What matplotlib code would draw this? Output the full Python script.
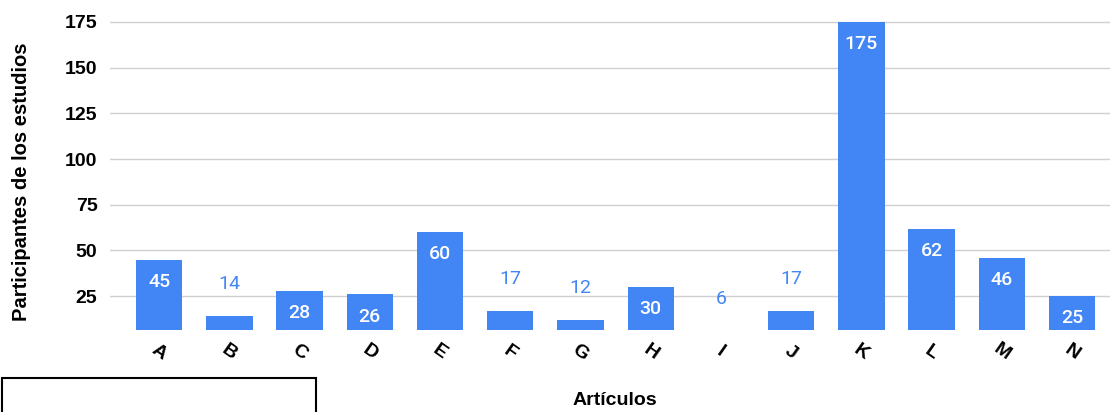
import matplotlib.pyplot as plt
from matplotlib.patches import Rectangle

articulos = ["A", "B", "C", "D", "E", "F", "G", "H", "I", "J", "K", "L", "M", "N"]
participantes = [45, 14, 28, 26, 60, 17, 12, 30, 6, 17, 175, 62, 46, 25]
y_ticks = [25, 50, 75, 100, 125, 150, 175]

blue = "#4285F4"

fig = plt.figure(figsize=(11.16, 4.12), dpi=100)
ax = fig.add_axes([110 / 1116, 82 / 412, 1000 / 1116, 309 / 412])

x = list(range(len(articulos)))
ax.bar(x, participantes, width=0.66, color=blue, zorder=2)

# labels inside tall bars, above short ones
for xi, v in zip(x, participantes):
    if v >= 25:
        ax.annotate(str(v), (xi, v), xytext=(0, -16), textcoords="offset points",
                    ha="center", va="center", color="white", fontsize=14,
                    family="Roboto", fontweight="medium", zorder=3)
    else:
        ax.annotate(str(v), (xi, v), xytext=(0, 23), textcoords="offset points",
                    ha="center", va="center", color=blue, fontsize=14,
                    family="Roboto", zorder=3, annotation_clip=False)

ax.set_xlim(-0.7, 13.54)
ax.set_ylim(6.5, 175.5)
ax.set_yticks(y_ticks)
ax.set_yticklabels([str(t) for t in y_ticks], fontsize=14, fontweight="bold",
                   family="Liberation Sans")
ax.set_xticks(x)
ax.set_xticklabels(articulos, fontsize=14, fontweight="bold",
                   family="Liberation Sans", rotation=-35, rotation_mode="anchor",
                   ha="center", va="center")
ax.tick_params(axis="both", length=0)
ax.tick_params(axis="y", pad=9)
ax.tick_params(axis="x", pad=16)
ax.grid(axis="y", color="#d0d0d0", linewidth=1, zorder=0)
for s in ax.spines.values():
    s.set_visible(False)

ax.set_ylabel("Participantes de los estudios", fontsize=14.5, fontweight="bold",
              family="Liberation Sans", va="center")
ax.yaxis.set_label_coords(-0.088, 0.479)
ax.set_xlabel("Artículos", fontsize=14, fontweight="bold",
              family="Liberation Sans", va="center")
ax.xaxis.set_label_coords(0.505, -0.227)

fig.patches.append(Rectangle((2 / 1116, -0.05), 314 / 1116, (0.05 + 34 / 412),
                             transform=fig.transFigure, fill=False,
                             edgecolor="black", linewidth=1.5))

fig.savefig("out.png", dpi=100)
